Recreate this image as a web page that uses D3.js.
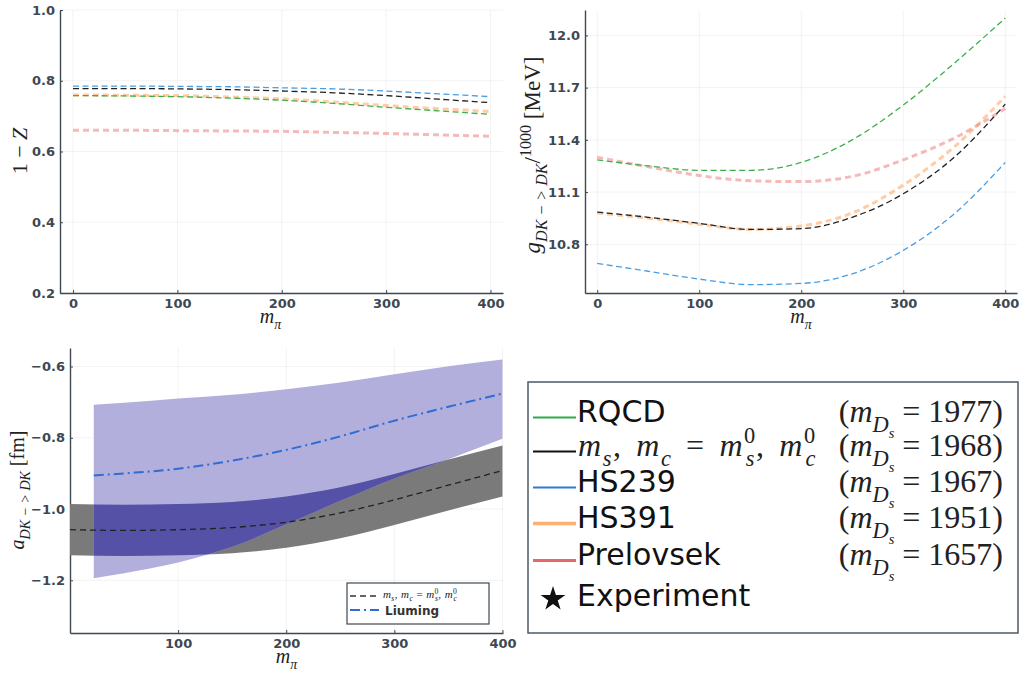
<!DOCTYPE html>
<html>
<head>
<meta charset="utf-8">
<script src="https://cdn.jsdelivr.net/npm/d3@7"></script>
<style>
  body { margin: 0; background: #fff; }
  svg { display: block; }
  .tick text { font-family: "DejaVu Sans", sans-serif; font-weight: bold; font-size: 13px; fill: #3d4852; }
  .math { font-family: "Liberation Serif", serif; fill: #222; }
</style>
</head>
<body>
<svg id="chart" width="1021" height="673"></svg>
<script>
"use strict";

// pion masses used for all curves
var mPi = [0, 50, 100, 150, 200, 250, 300, 350, 400];

// 1 - Z (top left)
var zRQCD      = [0.758, 0.757, 0.755, 0.751, 0.745, 0.736, 0.725, 0.715, 0.705];
var zPhys      = [0.778, 0.778, 0.777, 0.775, 0.771, 0.766, 0.758, 0.748, 0.738];
var zHS239     = [0.785, 0.785, 0.784, 0.783, 0.780, 0.777, 0.771, 0.763, 0.755];
var zHS391     = [0.760, 0.759, 0.758, 0.754, 0.749, 0.740, 0.730, 0.721, 0.713];
var zPrelovsek = [0.660, 0.660, 0.659, 0.658, 0.657, 0.654, 0.651, 0.647, 0.643];

// g_DK->DK / 1000 (top right)
var gRQCD      = [11.285, 11.250, 11.225, 11.225, 11.270, 11.400, 11.600, 11.840, 12.100];
var gPhys      = [10.985, 10.955, 10.920, 10.885, 10.890, 10.955, 11.090, 11.300, 11.605];
var gHS239     = [10.690, 10.645, 10.600, 10.568, 10.575, 10.630, 10.765, 10.975, 11.270];
var gHS391     = [10.980, 10.950, 10.915, 10.885, 10.905, 10.980, 11.140, 11.360, 11.650];
var gPrelovsek = [11.300, 11.245, 11.195, 11.165, 11.160, 11.190, 11.285, 11.410, 11.580];

// scattering length (bottom left)
var aMid = [-1.058, -1.060, -1.058, -1.052, -1.037, -1.011, -0.974, -0.933, -0.892];
var aHi  = [-0.986, -0.988, -0.986, -0.980, -0.965, -0.939, -0.902, -0.861, -0.822];
var aLo  = [-1.130, -1.132, -1.130, -1.124, -1.109, -1.082, -1.045, -1.004, -0.965];

var liuM   = [22, 50, 100, 150, 200, 250, 300, 350, 400];
var liuMid = [-0.906, -0.900, -0.887, -0.864, -0.834, -0.796, -0.752, -0.713, -0.676];
var liuHi  = [-0.707, -0.702, -0.690, -0.679, -0.664, -0.645, -0.622, -0.599, -0.580];
var liuLo  = [-1.194, -1.180, -1.150, -1.106, -1.043, -0.977, -0.914, -0.860, -0.803];

// ticks
var xTicksTop = [0, 100, 200, 300, 400];
var xTicksA   = [100, 200, 300, 400];
var yTicksZ   = [0.2, 0.4, 0.6, 0.8, 1.0];
var yTicksG   = [10.8, 11.1, 11.4, 11.7, 12.0];
var yTicksA   = [-1.2, -1.0, -0.8, -0.6];

// legend
var legendNames  = ["RQCD", null, "HS239", "HS391", "Prelovsek"];
var legendMasses = ["1977", "1968", "1967", "1951", "1657"];

var svg = d3.select("#chart");
var axisColor = "#3d4852";

// styles for each ensemble line
var lineStyles = [
    { color: "#3cb04a", width: 1.3, opacity: 1, dash: "6,3.5" },
    { color: "#222222", width: 1.3, opacity: 1, dash: "6,3.5" },
    { color: "#4a9de0", width: 1.3, opacity: 1, dash: "6,3.5" },
    { color: "#ffaa66", width: 3, opacity: 0.6, dash: "6,4" },
    { color: "#ee8080", width: 3, opacity: 0.55, dash: "6,4" }
];
var legendColors = ["#2faa4a", "#111111", "#2a7fcf", "#ffb070", "#e46a6a"];

// small helper for math-ish text
function mathSpans(text, tokens, size) {
    var cur = 0;
    tokens.forEach(function (tk) {
        var s = tk[0], kind = tk[1];
        var target = 0, fs = size, dx = 0, italic = true;
        if (kind === "r") italic = false;
        if (kind === "sub") { target = size * 0.3; fs = size * 0.7; }
        if (kind === "sup") { target = -size * 0.4; fs = size * 0.7; italic = false; }
        if (kind === "ss") { target = size * 0.3; fs = size * 0.7; dx = -size * 0.7 * 0.5; }
        if (kind === "subsub") { target = size * 0.5; fs = size * 0.45; }
        var t = text.append("tspan").text(s)
            .attr("font-size", fs)
            .attr("dy", target - cur)
            .attr("font-style", italic ? "italic" : "normal");
        if (dx) t.attr("dx", dx);
        cur = target;
    });
}

function makePanel(o) {
    var x = d3.scaleLinear().domain(o.xd).range([o.l, o.r]);
    var y = d3.scaleLinear().domain(o.yd).range([o.b, o.t]);
    var g = svg.append("g");

    // grid
    g.selectAll(".gx").data(o.xt).join("line")
        .attr("x1", d => x(d)).attr("x2", d => x(d))
        .attr("y1", o.t).attr("y2", o.b)
        .attr("stroke", "#000").attr("stroke-opacity", 0.05);
    g.selectAll(".gy").data(o.yt).join("line")
        .attr("x1", o.l).attr("x2", o.r)
        .attr("y1", d => y(d)).attr("y2", d => y(d))
        .attr("stroke", "#000").attr("stroke-opacity", 0.05);

    var ax = g.append("g")
        .attr("transform", `translate(0,${o.b})`)
        .call(d3.axisBottom(x).tickValues(o.xt).tickFormat(d3.format("d"))
            .tickSizeInner(-3).tickSizeOuter(0).tickPadding(6));
    var ay = g.append("g")
        .attr("transform", `translate(${o.l},0)`)
        .call(d3.axisLeft(y).tickValues(o.yt).tickFormat(d3.format(".1f"))
            .tickSizeInner(-3).tickSizeOuter(0).tickPadding(5));
    [ax, ay].forEach(a => {
        a.select(".domain").attr("stroke", axisColor).attr("stroke-width", 1.4);
        a.selectAll(".tick line").attr("stroke", axisColor);
    });

    // x label m_pi
    var xl = g.append("text").attr("class", "math")
        .attr("x", (o.l + o.r) / 2 + (o.xlShift || 0)).attr("y", o.b + 30)
        .attr("text-anchor", "middle");
    mathSpans(xl, [["m", "i"], ["π", "sub"]], 20);

    return { x: x, y: y, g: g };
}

// ---------- top left: 1 - Z ----------
var p1 = makePanel({ l: 60, r: 503, t: 10, b: 293, xd: [-12.5, 412], yd: [0.2, 1.0],
    xt: xTicksTop, yt: yTicksZ, xlShift: -11 });
var zSeries = [zRQCD, zPhys, zHS239, zHS391, zPrelovsek];
var line1 = d3.line().x((d, i) => p1.x(mPi[i])).y(d => p1.y(d)).curve(d3.curveMonotoneX);
[3, 4, 0, 1, 2].forEach(function (k) {
    var s = lineStyles[k];
    p1.g.append("path").datum(zSeries[k])
        .attr("d", line1).attr("fill", "none")
        .attr("stroke", s.color).attr("stroke-width", s.width)
        .attr("stroke-opacity", s.opacity).attr("stroke-dasharray", s.dash);
});
var yl1 = svg.append("text").attr("class", "math")
    .attr("transform", "translate(27,151) rotate(-90)").attr("text-anchor", "middle");
mathSpans(yl1, [["1 − ", "r"], ["Z", "i"]], 22);

// ---------- top right: g ----------
var p2 = makePanel({ l: 585, r: 1017, t: 10, b: 293, xd: [-12, 411.5], yd: [10.52, 12.146],
    xt: xTicksTop, yt: yTicksG });
var gSeries = [gRQCD, gPhys, gHS239, gHS391, gPrelovsek];
var line2 = d3.line().x((d, i) => p2.x(mPi[i])).y(d => p2.y(d)).curve(d3.curveMonotoneX);
[3, 4, 0, 1, 2].forEach(function (k) {
    var s = lineStyles[k];
    p2.g.append("path").datum(gSeries[k])
        .attr("d", line2).attr("fill", "none")
        .attr("stroke", s.color).attr("stroke-width", s.width)
        .attr("stroke-opacity", s.opacity).attr("stroke-dasharray", s.dash);
});
var yl2 = svg.append("text").attr("class", "math")
    .attr("transform", "translate(540,155) rotate(-90)").attr("text-anchor", "middle");
mathSpans(yl2, [["g", "i"], ["DK − > DK", "sub"], ["/", "r"], ["1000", "sup"], [" [MeV]", "r"]], 23);

// ---------- bottom left: scattering length ----------
var p3 = makePanel({ l: 70, r: 503, t: 348, b: 633, xd: [0, 400.5], yd: [-1.348, -0.548],
    xt: xTicksA, yt: yTicksA, xlShift: 0 });
var physData = mPi.map((m, i) => ({ m: m, mid: aMid[i], lo: aLo[i], hi: aHi[i] }));
var liuData = liuM.map((m, i) => ({ m: m, mid: liuMid[i], lo: liuLo[i], hi: liuHi[i] }));

var band = d3.area().x(d => p3.x(d.m)).y0(d => p3.y(d.lo)).y1(d => p3.y(d.hi)).curve(d3.curveMonotoneX);
var mid = d3.line().x(d => p3.x(d.m)).y(d => p3.y(d.mid)).curve(d3.curveMonotoneX);

svg.append("clipPath").attr("id", "grayClip")
    .append("path").attr("d", band(physData));

p3.g.append("path").attr("d", band(physData)).attr("fill", "#7a7a7a");
p3.g.append("path").attr("d", band(liuData)).attr("fill", "#b3afdc");
p3.g.append("path").attr("d", band(liuData)).attr("fill", "#5451a7").attr("clip-path", "url(#grayClip)");

p3.g.append("path").attr("d", mid(physData)).attr("fill", "none")
    .attr("stroke", "#222").attr("stroke-width", 1.3).attr("stroke-dasharray", "6,4");
p3.g.append("path").attr("d", mid(liuData)).attr("fill", "none")
    .attr("stroke", "#2f6cd6").attr("stroke-width", 2).attr("stroke-dasharray", "10,4,2,4");

var yl3 = svg.append("text").attr("class", "math")
    .attr("transform", "translate(24,490) rotate(-90)").attr("text-anchor", "middle");
mathSpans(yl3, [["a", "i"], ["DK − > DK", "sub"], [" [fm]", "r"]], 20);

// small legend in bottom panel
var lg = svg.append("g");
lg.append("rect").attr("x", 347).attr("y", 583).attr("width", 142).attr("height", 41)
    .attr("fill", "#fff").attr("stroke", axisColor).attr("stroke-width", 1.2);
lg.append("line").attr("x1", 350).attr("x2", 379).attr("y1", 596).attr("y2", 596)
    .attr("stroke", "#333").attr("stroke-width", 1.3).attr("stroke-dasharray", "6,4");
lg.append("line").attr("x1", 350).attr("x2", 379).attr("y1", 610).attr("y2", 610)
    .attr("stroke", "#2f6cd6").attr("stroke-width", 2).attr("stroke-dasharray", "10,4,2,4");
var lgt = lg.append("text").attr("class", "math").attr("x", 383).attr("y", 598)
    .attr("fill", "#444").attr("letter-spacing", 0.4);
mathSpans(lgt, [["m", "i"], ["s", "sub"], [", ", "r"], ["m", "i"], ["c", "sub"], [" = ", "r"],
    ["m", "i"], ["0", "sup"], ["s", "ss"], [", ", "r"], ["m", "i"], ["0", "sup"], ["c", "ss"]], 11);
lg.append("text").attr("x", 385).attr("y", 615)
    .attr("font-family", "DejaVu Sans").attr("font-weight", "bold").attr("font-size", 12)
    .attr("fill", "#333").text("Liuming");

// ---------- big legend ----------
var bl = svg.append("g");
bl.append("rect").attr("x", 528).attr("y", 382).attr("width", 490).attr("height", 251)
    .attr("fill", "#fff").attr("stroke", "#4d5a66").attr("stroke-width", 1.5);
var rowY = [422, 456, 492, 528, 565];
var sampleW = [2, 2, 2, 3.5, 3];
legendMasses.forEach(function (mass, i) {
    bl.append("line").attr("x1", 533).attr("x2", 576)
        .attr("y1", rowY[i] - 4.5).attr("y2", rowY[i] - 4.5)
        .attr("stroke", legendColors[i]).attr("stroke-width", sampleW[i]);
    if (legendNames[i]) {
        bl.append("text").attr("x", 577).attr("y", rowY[i])
            .attr("font-family", "DejaVu Sans").attr("font-size", 30).attr("fill", "#111")
            .text(legendNames[i]);
    } else {
        var t = bl.append("text").attr("class", "math").attr("x", 578).attr("y", rowY[i])
            .attr("letter-spacing", 1.6).attr("word-spacing", 4);
        mathSpans(t, [["m", "i"], ["s", "sub"], [", ", "r"], ["m", "i"], ["c", "sub"], [" = ", "r"],
            ["m", "i"], ["0", "sup"], ["s", "ss"], [", ", "r"], ["m", "i"], ["0", "sup"], ["c", "ss"]], 32);
    }
    var r = bl.append("text").attr("class", "math").attr("x", 1003).attr("y", rowY[i])
        .attr("text-anchor", "end");
    mathSpans(r, [["(", "r"], ["m", "i"], ["D", "sub"], ["s", "subsub"], [" = " + mass + ")", "r"]], 32);
});
bl.append("path")
    .attr("d", d3.symbol(d3.symbolStar).size(190)())
    .attr("transform", "translate(553,599)")
    .attr("fill", "#111");
bl.append("text").attr("x", 577).attr("y", 606)
    .attr("font-family", "DejaVu Sans").attr("font-size", 30).attr("fill", "#111")
    .text("Experiment");
</script>
</body>
</html>
